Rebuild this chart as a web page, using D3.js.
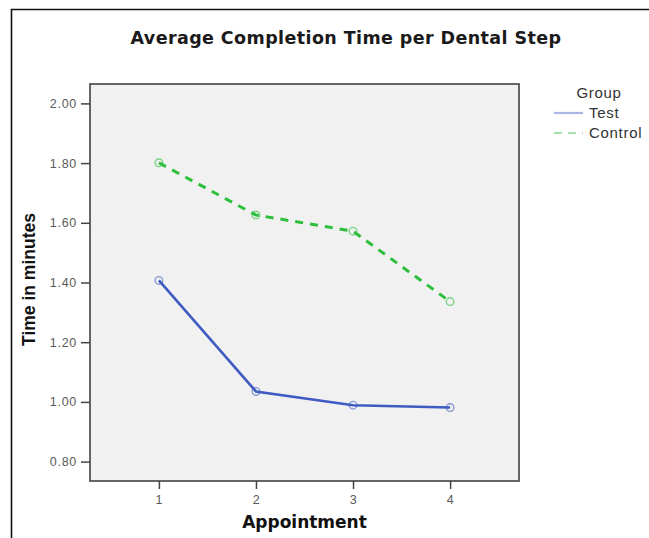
<!DOCTYPE html>
<html>
<head>
<meta charset="utf-8">
<script src="https://cdn.jsdelivr.net/npm/d3@7"></script>
<style>
  html, body { margin: 0; padding: 0; background: #fff; }
  svg { display: block; }
</style>
</head>
<body>
<svg id="chart" width="649" height="538"></svg>
<script>
// ── Data ────────────────────────────────────────────────────────────────
const appointments = [1, 2, 3, 4];
const testTimes = [1.407, 1.035, 0.989, 0.981];
const controlTimes = [1.801, 1.626, 1.572, 1.336];
const yTicks = [0.8, 1.0, 1.2, 1.4, 1.6, 1.8, 2.0];
const groups = ["Test", "Control"];

const series = [
  { name: groups[0], values: testTimes, color: "#3f5bc2", legendColor: "#aab6e3", width: 2.6, dash: null, legendDash: null },
  { name: groups[1], values: controlTimes, color: "#2dbf3c", legendColor: "#a6e3ad", width: 3, dash: "8,7", legendDash: "8,6" },
];

// ── Layout ──────────────────────────────────────────────────────────────
const plot = { left: 90, top: 84, right: 519, bottom: 481 };

const svg = d3.select("#chart");

const x = d3.scaleLinear().domain([0.29, 4.71]).range([plot.left, plot.right]);
const y = d3.scaleLinear().domain([0.735, 2.065]).range([plot.bottom, plot.top]);

// Outer frame (top + left edges only visible)
svg.append("path")
  .attr("d", "M11.5,538 L11.5,9.5 L649,9.5")
  .attr("fill", "none")
  .attr("stroke", "#111")
  .attr("stroke-width", 1.6);

// Title
svg.append("text")
  .attr("x", 346).attr("y", 44)
  .attr("text-anchor", "middle")
  .style("font-family", "'DejaVu Sans', Verdana, sans-serif")
  .style("font-weight", "bold")
  .style("font-size", "17.5px")
  .style("letter-spacing", "0.4px")
  .attr("fill", "#1a1a1a")
  .text("Average Completion Time per Dental Step");

// Plot background + frame
svg.append("rect")
  .attr("x", plot.left).attr("y", plot.top)
  .attr("width", plot.right - plot.left).attr("height", plot.bottom - plot.top)
  .attr("fill", "#f1f1f1")
  .attr("stroke", "#555")
  .attr("stroke-width", 1.8);

// Axes
const tickFont = (sel) => sel.selectAll("text")
  .style("font-family", "'Liberation Sans', Arial, sans-serif")
  .style("font-size", "12.5px")
  .style("letter-spacing", "0.7px")
  .attr("fill", "#5a5a5a");

const yAxis = svg.append("g")
  .attr("transform", `translate(${plot.left},0)`)
  .call(d3.axisLeft(y).tickValues(yTicks).tickFormat(d3.format(".2f")).tickSize(9).tickPadding(4));
yAxis.select(".domain").remove();
yAxis.selectAll("line").attr("stroke", "#444").attr("stroke-width", 1.5);
tickFont(yAxis);

const xAxis = svg.append("g")
  .attr("transform", `translate(0,${plot.bottom})`)
  .call(d3.axisBottom(x).tickValues(appointments).tickFormat(d3.format("d")).tickSize(8).tickPadding(6));
xAxis.select(".domain").remove();
xAxis.selectAll("line").attr("stroke", "#444").attr("stroke-width", 1.5);
tickFont(xAxis);

// Axis titles
svg.append("text")
  .attr("transform", `translate(34.5,${(plot.top + plot.bottom) / 2 - 3}) rotate(-90)`)
  .attr("text-anchor", "middle")
  .style("font-family", "'Liberation Sans', Arial, sans-serif")
  .style("font-weight", "bold")
  .style("font-size", "17.5px")
  .attr("fill", "#111")
  .text("Time in minutes");

svg.append("text")
  .attr("x", (plot.left + plot.right) / 2).attr("y", 528)
  .attr("text-anchor", "middle")
  .style("font-family", "'DejaVu Sans', Verdana, sans-serif")
  .style("font-weight", "bold")
  .style("font-size", "17px")
  .attr("fill", "#111")
  .text("Appointment");

// Lines + markers
const line = d3.line()
  .x((d, i) => x(appointments[i]))
  .y((d) => y(d));

for (const s of series) {
  const g = svg.append("g");
  g.append("path")
    .datum(s.values)
    .attr("d", line)
    .attr("fill", "none")
    .attr("stroke", s.color)
    .attr("stroke-width", s.width)
    .attr("stroke-dasharray", s.dash);
  g.selectAll("circle")
    .data(s.values)
    .enter().append("circle")
    .attr("cx", (d, i) => x(appointments[i]))
    .attr("cy", (d) => y(d))
    .attr("r", 3.8)
    .attr("fill", "none")
    .attr("stroke", s.color)
    .attr("stroke-opacity", 0.6)
    .attr("stroke-width", 1.4);
}

// Legend
const legend = svg.append("g")
  .style("font-family", "'Liberation Sans', Arial, sans-serif")
  .style("font-size", "15px")
  .style("letter-spacing", "0.7px")
  .attr("fill", "#333");

legend.append("text")
  .attr("x", 599).attr("y", 98)
  .attr("text-anchor", "middle")
  .text("Group");

series.forEach((s, i) => {
  const ly = 113 + i * 20;
  legend.append("line")
    .attr("x1", 554).attr("x2", 583)
    .attr("y1", ly).attr("y2", ly)
    .attr("stroke", s.legendColor)
    .attr("stroke-width", 2.2)
    .attr("stroke-dasharray", s.legendDash);
  legend.append("text")
    .attr("x", 589).attr("y", ly + 5)
    .text(s.name);
});
</script>
</body>
</html>
